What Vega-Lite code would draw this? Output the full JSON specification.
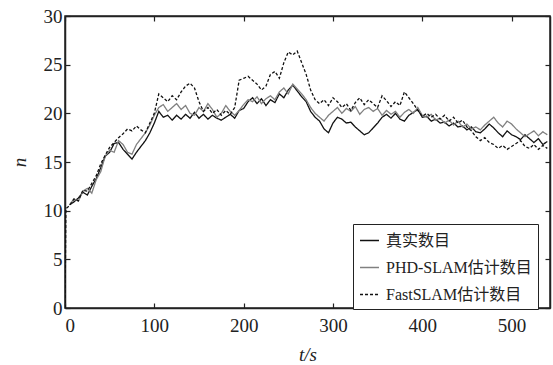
{
  "$schema": "https://vega.github.io/schema/vega-lite/v6.json",
  "width": 485,
  "height": 292,
  "autosize": "none",
  "padding": {"left": 65, "top": 16, "right": 3, "bottom": 57},
  "background": "white",
  "config": {
    "font": "Liberation Serif",
    "view": {"stroke": "#222", "strokeWidth": 1.5},
    "axis": {"grid": false, "domainColor": "#222", "domainWidth": 1.5, "tickColor": "#222", "tickWidth": 1.2, "labelColor": "#222", "titleColor": "#222", "labelFont": "Liberation Serif", "titleFont": "Liberation Serif", "labelFontSize": 19, "titleFontSize": 19, "titleFontWeight": "normal", "titleFontStyle": "italic"}
  },
  "data": {"values": [
    {"t":0,"A":10.0,"B":10.0,"C":0},
    {"t":1,"C":10.2},
    {"t":5,"A":10.6,"B":10.6,"C":10.5},
    {"t":10,"A":10.9,"B":11.2,"C":11.2},
    {"t":15,"A":11.3,"B":11.0,"C":11.0},
    {"t":20,"A":11.9,"B":12.0,"C":12.1},
    {"t":25,"A":11.6,"B":12.3,"C":12.0},
    {"t":30,"A":12.5,"B":11.8,"C":12.8},
    {"t":35,"A":13.3,"B":13.2,"C":13.6},
    {"t":40,"A":14.4,"B":14.0,"C":14.8},
    {"t":45,"A":15.6,"B":15.6,"C":15.7},
    {"t":50,"A":16.0,"B":16.2,"C":16.5},
    {"t":55,"A":16.9,"B":16.0,"C":17.0},
    {"t":60,"A":17.0,"B":17.2,"C":17.5},
    {"t":65,"A":16.3,"B":16.8,"C":17.9},
    {"t":70,"A":15.8,"B":16.0,"C":18.4},
    {"t":75,"A":15.3,"B":15.8,"C":18.2},
    {"t":80,"A":16.0,"B":16.8,"C":18.7},
    {"t":85,"A":16.6,"B":17.4,"C":18.3},
    {"t":90,"A":17.2,"B":18.0,"C":18.0},
    {"t":95,"A":18.0,"B":18.8,"C":19.0},
    {"t":100,"A":19.0,"B":19.8,"C":20.0},
    {"t":105,"A":20.2,"B":20.6,"C":22.0},
    {"t":110,"A":19.6,"B":20.9,"C":21.6},
    {"t":115,"A":19.8,"B":20.2,"C":21.2},
    {"t":120,"A":19.3,"B":20.6,"C":21.8},
    {"t":125,"A":19.8,"B":21.0,"C":21.4},
    {"t":130,"A":19.4,"B":20.4,"C":22.2},
    {"t":135,"A":19.9,"B":20.8,"C":22.8},
    {"t":140,"A":19.5,"B":20.0,"C":23.1},
    {"t":145,"A":20.1,"B":19.8,"C":22.6},
    {"t":150,"A":19.5,"B":20.6,"C":21.2},
    {"t":155,"A":19.9,"B":20.2,"C":20.2},
    {"t":160,"A":19.4,"B":21.0,"C":20.6},
    {"t":165,"A":19.8,"B":20.4,"C":20.0},
    {"t":170,"A":19.5,"B":19.6,"C":20.4},
    {"t":175,"A":19.3,"B":20.0,"C":19.8},
    {"t":180,"A":19.6,"B":20.8,"C":20.3},
    {"t":185,"A":19.9,"B":20.2,"C":19.9},
    {"t":190,"A":19.5,"B":19.8,"C":20.6},
    {"t":195,"A":20.3,"B":20.3,"C":23.4},
    {"t":200,"A":20.5,"B":20.9,"C":23.6},
    {"t":205,"A":21.2,"B":21.4,"C":23.8},
    {"t":210,"A":21.6,"B":21.2,"C":23.4},
    {"t":215,"A":21.0,"B":21.7,"C":23.0},
    {"t":220,"A":21.5,"B":21.0,"C":22.4},
    {"t":225,"A":20.8,"B":21.5,"C":22.8},
    {"t":230,"A":21.4,"B":21.8,"C":24.0},
    {"t":235,"A":21.1,"B":21.4,"C":24.3},
    {"t":240,"A":22.0,"B":22.2,"C":23.6},
    {"t":245,"A":21.6,"B":22.6,"C":25.2},
    {"t":250,"A":22.4,"B":22.0,"C":26.3},
    {"t":255,"A":22.9,"B":23.0,"C":26.0},
    {"t":260,"A":22.3,"B":22.5,"C":26.4},
    {"t":265,"A":21.7,"B":22.0,"C":25.2},
    {"t":270,"A":21.2,"B":21.4,"C":24.0},
    {"t":275,"A":20.2,"B":20.6,"C":22.4},
    {"t":280,"A":19.6,"B":20.0,"C":21.4},
    {"t":285,"A":19.2,"B":19.6,"C":21.0},
    {"t":290,"A":18.4,"B":19.2,"C":21.4},
    {"t":295,"A":18.0,"B":19.8,"C":20.8},
    {"t":300,"A":19.0,"B":20.2,"C":21.6},
    {"t":305,"A":19.6,"B":20.6,"C":21.2},
    {"t":310,"A":19.4,"B":20.0,"C":20.6},
    {"t":315,"A":19.0,"B":20.5,"C":21.0},
    {"t":320,"A":19.1,"B":20.2,"C":20.3},
    {"t":325,"A":18.6,"B":20.7,"C":21.1},
    {"t":330,"A":18.2,"B":19.9,"C":21.6},
    {"t":335,"A":17.8,"B":20.4,"C":20.9},
    {"t":340,"A":18.0,"B":20.6,"C":21.4},
    {"t":345,"A":18.5,"B":20.2,"C":21.0},
    {"t":350,"A":19.0,"B":20.5,"C":20.6},
    {"t":355,"A":19.6,"B":19.8,"C":21.8},
    {"t":360,"A":19.9,"B":20.3,"C":21.3},
    {"t":365,"A":19.5,"B":19.9,"C":20.7},
    {"t":370,"A":20.0,"B":20.2,"C":21.2},
    {"t":375,"A":19.4,"B":19.6,"C":20.8},
    {"t":380,"A":19.2,"B":20.1,"C":22.2},
    {"t":385,"A":19.8,"B":20.4,"C":21.6},
    {"t":390,"A":20.1,"B":20.0,"C":21.0},
    {"t":395,"A":20.4,"B":20.6,"C":20.3},
    {"t":400,"A":19.6,"B":19.8,"C":19.7},
    {"t":405,"A":19.7,"B":19.6,"C":20.0},
    {"t":410,"A":19.2,"B":19.9,"C":19.6},
    {"t":415,"A":19.4,"B":19.3,"C":19.9},
    {"t":420,"A":19.0,"B":19.5,"C":19.4},
    {"t":425,"A":19.1,"B":19.0,"C":19.8},
    {"t":430,"A":18.7,"B":19.3,"C":19.2},
    {"t":435,"A":19.0,"B":18.8,"C":19.6},
    {"t":440,"A":18.6,"B":19.2,"C":19.0},
    {"t":445,"A":18.7,"B":18.6,"C":19.3},
    {"t":450,"A":18.3,"B":18.9,"C":18.6},
    {"t":455,"A":18.6,"B":18.4,"C":18.2},
    {"t":460,"A":18.1,"B":18.6,"C":17.6},
    {"t":465,"A":18.0,"B":18.3,"C":17.2},
    {"t":470,"A":18.4,"B":18.8,"C":17.5},
    {"t":475,"A":18.9,"B":19.2,"C":17.0},
    {"t":480,"A":18.5,"B":19.6,"C":16.8},
    {"t":485,"A":18.0,"B":19.0,"C":16.4},
    {"t":490,"A":17.6,"B":18.6,"C":16.7},
    {"t":495,"A":18.2,"B":19.2,"C":16.3},
    {"t":500,"A":17.8,"B":18.9,"C":16.6},
    {"t":505,"A":17.6,"B":18.4,"C":16.9},
    {"t":510,"A":17.3,"B":18.0,"C":17.2},
    {"t":515,"A":17.8,"B":17.6,"C":16.6},
    {"t":520,"A":17.4,"B":17.9,"C":16.4},
    {"t":525,"A":17.0,"B":18.2,"C":16.8},
    {"t":530,"A":17.4,"B":17.7,"C":16.3},
    {"t":535,"A":16.8,"B":18.1,"C":16.7},
    {"t":540,"A":17.1,"B":17.8,"C":16.4}
  ]},
  "transform": [{"fold": ["A", "B", "C"], "as": ["s", "n"]}],
  "layer": [
    {
      "mark": {"type": "line", "clip": true},
      "encoding": {
        "x": {"field": "t", "type": "quantitative", "scale": {"domain": [0, 543], "nice": false, "zero": false},
              "axis": {"values": [0, 100, 200, 300, 400, 500], "tickSize": -5, "labelPadding": 13, "title": "t/s", "titlePadding": 10}},
        "y": {"field": "n", "type": "quantitative", "scale": {"domain": [0, 30], "nice": false},
              "axis": {"values": [0, 5, 10, 15, 20, 25, 30], "tickSize": -5, "labelPadding": 8, "title": "n", "titlePadding": 14}},
        "color": {"field": "s", "type": "nominal",
          "scale": {"domain": ["A", "B", "C"], "range": ["#111111", "#808080", "#111111"]},
          "legend": {"orient": "none", "legendX": 288, "legendY": 208, "title": null, "strokeColor": "#222", "fillColor": "white", "padding": 6,
            "labelFont": "Liberation Serif, Noto Sans CJK SC", "labelFontSize": 16, "labelColor": "#222", "symbolType": "stroke", "symbolSize": 360, "symbolStrokeWidth": 1.5, "rowPadding": 8, "labelOffset": 6,
            "labelExpr": "datum.label == 'A' ? '真实数目' : datum.label == 'B' ? 'PHD-SLAM估计数目' : 'FastSLAM估计数目'"}},
        "strokeDash": {"field": "s", "type": "nominal",
          "scale": {"domain": ["A", "B", "C"], "range": [[1, 0], [1, 0], [3, 2]]},
          "legend": {"orient": "none", "legendX": 288, "legendY": 208, "title": null, "strokeColor": "#222", "fillColor": "white", "padding": 6,
            "labelFont": "Liberation Serif, Noto Sans CJK SC", "labelFontSize": 16, "labelColor": "#222", "symbolType": "stroke", "symbolSize": 360, "symbolStrokeWidth": 1.5, "rowPadding": 8, "labelOffset": 6,
            "labelExpr": "datum.label == 'A' ? '真实数目' : datum.label == 'B' ? 'PHD-SLAM估计数目' : 'FastSLAM估计数目'"}},
        "strokeWidth": {"value": 1.3}
      }
    },
    {
      "mark": {"type": "point", "opacity": 0},
      "encoding": {
        "x": {"field": "t", "type": "quantitative", "scale": {"domain": [0, 543], "nice": false, "zero": false},
              "axis": {"orient": "top", "values": [0, 100, 200, 300, 400, 500], "tickSize": -5, "labels": false, "title": null}},
        "y": {"field": "n", "type": "quantitative", "scale": {"domain": [0, 30], "nice": false},
              "axis": {"orient": "right", "values": [0, 5, 10, 15, 20, 25, 30], "tickSize": -5, "labels": false, "title": null}}
      }
    }
  ],
  "resolve": {"axis": {"x": "independent", "y": "independent"}}
}
